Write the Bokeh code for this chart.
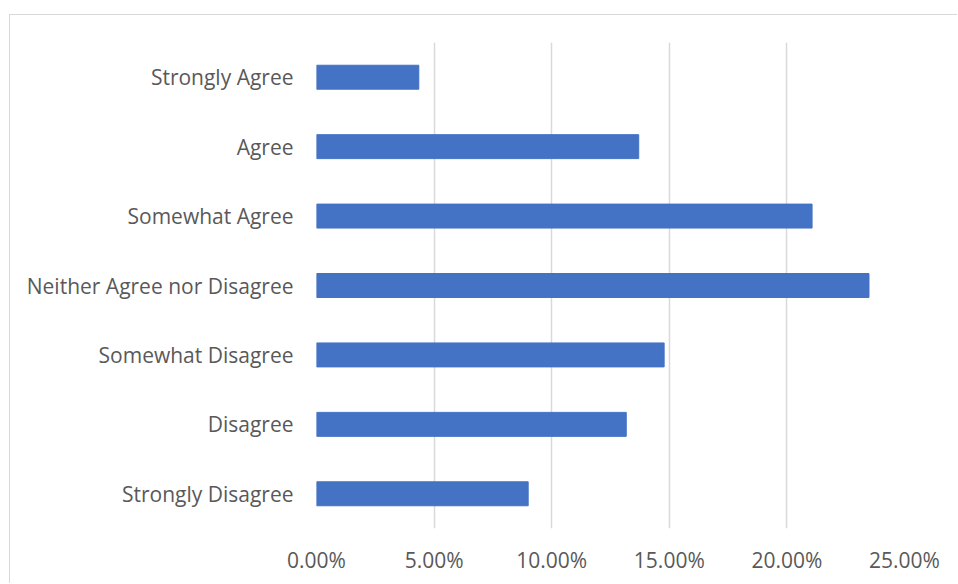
from bokeh.plotting import figure
from bokeh.models import FactorRange, Range1d, FixedTicker, NumeralTickFormatter
from bokeh.embed import file_html
from bokeh.resources import INLINE

categories = ["Strongly Agree", "Agree", "Somewhat Agree", "Neither Agree nor Disagree",
              "Somewhat Disagree", "Disagree", "Strongly Disagree"]
values = [0.0435, 0.137, 0.2107, 0.2349, 0.1478, 0.1317, 0.090]
x_ticks = [0.0, 0.05, 0.10, 0.15, 0.20, 0.25]

FONT = "Open Sans"
TXT = "#595959"

# canvas starts at page (10, 15) after margin + border
p = figure(width=948, height=569, output_backend="svg", toolbar_location=None,
           y_range=FactorRange(factors=categories[::-1], range_padding=0),
           x_range=Range1d(0, 0.25),
           min_border_left=306, min_border_right=54, min_border_top=27, min_border_bottom=56)
p.styles = {"margin-left": "9px", "margin-top": "14px",
            "border-left": "1.5px solid #d9d9d9", "border-top": "1.5px solid #d9d9d9"}

p.hbar(y=categories, right=values, left=0, height=0.345, color="#4472C4", line_color="#4472C4")

p.outline_line_color = None
p.background_fill_color = "white"
p.border_fill_color = "white"

p.xaxis.ticker = FixedTicker(ticks=x_ticks)
p.xaxis.formatter = NumeralTickFormatter(format="0.00%")
p.xaxis.axis_line_color = None
p.xaxis.major_tick_line_color = None
p.xaxis.minor_tick_line_color = None
p.xaxis.major_label_standoff = 11
p.xaxis.major_label_text_font = FONT
p.xaxis.major_label_text_font_size = "21px"
p.xaxis.major_label_text_color = TXT

p.yaxis.axis_line_color = None
p.yaxis.major_tick_line_color = None
p.yaxis.major_label_standoff = 17
p.yaxis.major_label_text_font = FONT
p.yaxis.major_label_text_font_size = "21px"
p.yaxis.major_label_text_color = TXT

p.xgrid.grid_line_color = "#d9d9d9"
p.xgrid.grid_line_width = 1.5
p.ygrid.grid_line_color = None

open("out.html", "w").write(file_html(p, INLINE))
